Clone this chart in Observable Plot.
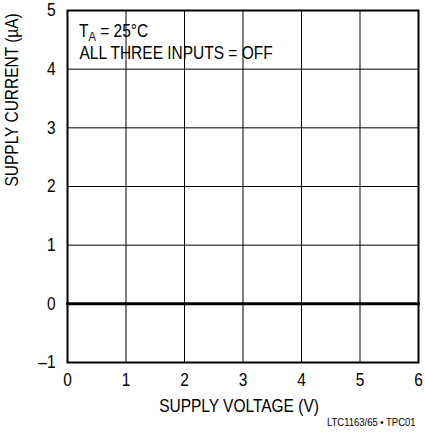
<!DOCTYPE html>
<html><head><meta charset="utf-8">
<script src="https://cdn.jsdelivr.net/npm/d3@7"></script>
<script src="https://cdn.jsdelivr.net/npm/@observablehq/plot@0.6"></script>
<style>
body{margin:0;background:#fff;}
</style></head><body>
<div id="chart"></div>
<script>
const voltage = [0, 6];
const current = [0, 0];
const xTicks = [0, 1, 2, 3, 4, 5, 6];
const yTicks = [-1, 0, 1, 2, 3, 4, 5];
const xLabel = "SUPPLY VOLTAGE (V)";
const yLabel = "SUPPLY CURRENT (µA)";
const caption = "LTC1163/65 • TPC01";
const note = "ALL THREE INPUTS = OFF";

const FONT = '"Liberation Sans",Arial,sans-serif';
const CONDENSE = 0.86;
const series = voltage.map((v, i) => ({v, c: current[i]}));
const fmt = d => d < 0 ? "\u2013" + Math.abs(d) : String(d);

const plot = Plot.plot({
  width: 425, height: 439,
  marginLeft: 67, marginRight: 7, marginTop: 10, marginBottom: 77,
  style: {fontSize: "18px", fontFamily: FONT, background: "#fff"},
  x: {domain: [0, 6], ticks: xTicks, label: null},
  y: {domain: [-1, 5], ticks: yTicks, label: null},
  marks: [
    Plot.gridX(xTicks, {stroke: "#000", strokeOpacity: 1, strokeWidth: 1}),
    Plot.gridY(yTicks, {stroke: "#000", strokeOpacity: 1, strokeWidth: 1}),
    Plot.frame({stroke: "#000", strokeWidth: 2}),
    Plot.axisX(xTicks, {tickSize: 0, tickPadding: 11, fontSize: 18, fill: "#000", tickFormat: fmt}),
    Plot.axisY(yTicks, {tickSize: 0, tickPadding: 12, fontSize: 18, fill: "#000", tickFormat: fmt}),
    Plot.line(series, {x: "v", y: "c", stroke: "#000", strokeWidth: 3}),
    Plot.text([xLabel], {frameAnchor: "bottom", dx: -4, dy: 44, lineAnchor: "middle", fontSize: 18, fill: "#000"}),
    Plot.text([yLabel], {frameAnchor: "left", dx: -55, rotate: -90, lineAnchor: "middle", fontSize: 18, fill: "#000"}),
    Plot.text([caption], {frameAnchor: "bottom-right", dx: -3, dy: 60, textAnchor: "end", lineAnchor: "middle", fontSize: 11, fill: "#000"}),
    Plot.text([note], {frameAnchor: "top-left", dx: 12, dy: 43, textAnchor: "start", lineAnchor: "middle", fontSize: 18, fill: "#000"})
  ]
});
// T_A annotation with subscript as real text
const svg = d3.select(plot);
const t = svg.append("text").attr("x", 79).attr("y", 37).attr("font-size", 18)
  .attr("fill", "#000").attr("text-anchor", "start").attr("font-family", FONT);
t.append("tspan").text("T");
t.append("tspan").attr("font-size", 13).attr("dy", 4).text("A");
t.append("tspan").attr("dy", -4).text(" = 25°C");
document.getElementById("chart").appendChild(plot);
// condense glyphs to mimic the narrow typeface of the original
plot.querySelectorAll("text").forEach(el => {
  const len = el.getComputedTextLength();
  if (len > 0) {
    el.setAttribute("textLength", (len * CONDENSE).toFixed(2));
    el.setAttribute("lengthAdjust", "spacingAndGlyphs");
  }
});
</script>
</body></html>
